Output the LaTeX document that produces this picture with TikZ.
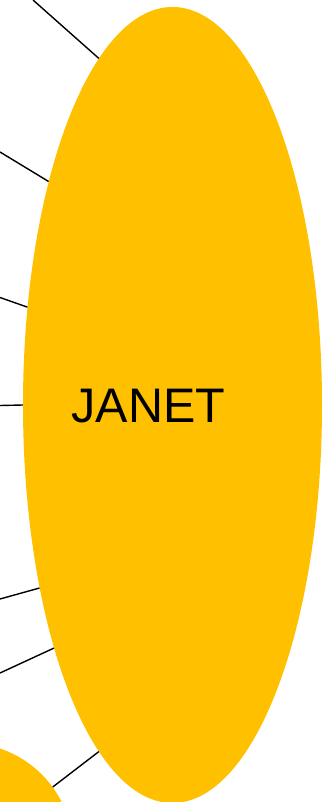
\documentclass[tikz,border=0pt]{standalone}
\usepackage{fontspec}
\setmainfont{Liberation Sans}
\usepackage{tikz}
\usetikzlibrary{shapes.geometric}

\definecolor{gold}{HTML}{FFC000}

\tikzset{
    bubble/.style={ellipse, fill=gold, draw=none, inner sep=0pt},
    link/.style={black, line width=1.4pt}
}

\begin{document}
\begin{tikzpicture}[x=1pt, y=-1pt]
    \useasboundingbox (0,0) rectangle (324,802);
    % Main node JANET
    \node[bubble, minimum width=299pt, minimum height=796pt,
        label={[xshift=-24pt, yshift=-1pt, font=\fontsize{48.5}{58}\selectfont]center:JANET}]
        (janet) at (172.5,405) {};
    % Neighbour cut off at bottom left
    \node[bubble, minimum width=214pt, minimum height=214pt] (other) at (-34,850) {};
    % Loose ends of the links leaving the picture
    \coordinate (e1) at (33,0);
    \coordinate (e2) at (0,152);
    \coordinate (e3) at (0,297.5);
    \coordinate (e4) at (0,405.5);
    \coordinate (e5) at (0,599);
    \coordinate (e6) at (0,673);
    % Links
    \draw[link] (e1) -- (janet.102.4);
    \draw[link] (e2) -- (janet.119.3);
    \draw[link] (e3) -- (janet.146.8);
    \draw[link] (e4) -- (janet.180);
    \draw[link] (e5) -- (janet.234.4);
    \draw[link] (e6) -- (janet.244.3);
    \draw[link] (other.36) -- (janet.258.5);
\end{tikzpicture}
\end{document}
